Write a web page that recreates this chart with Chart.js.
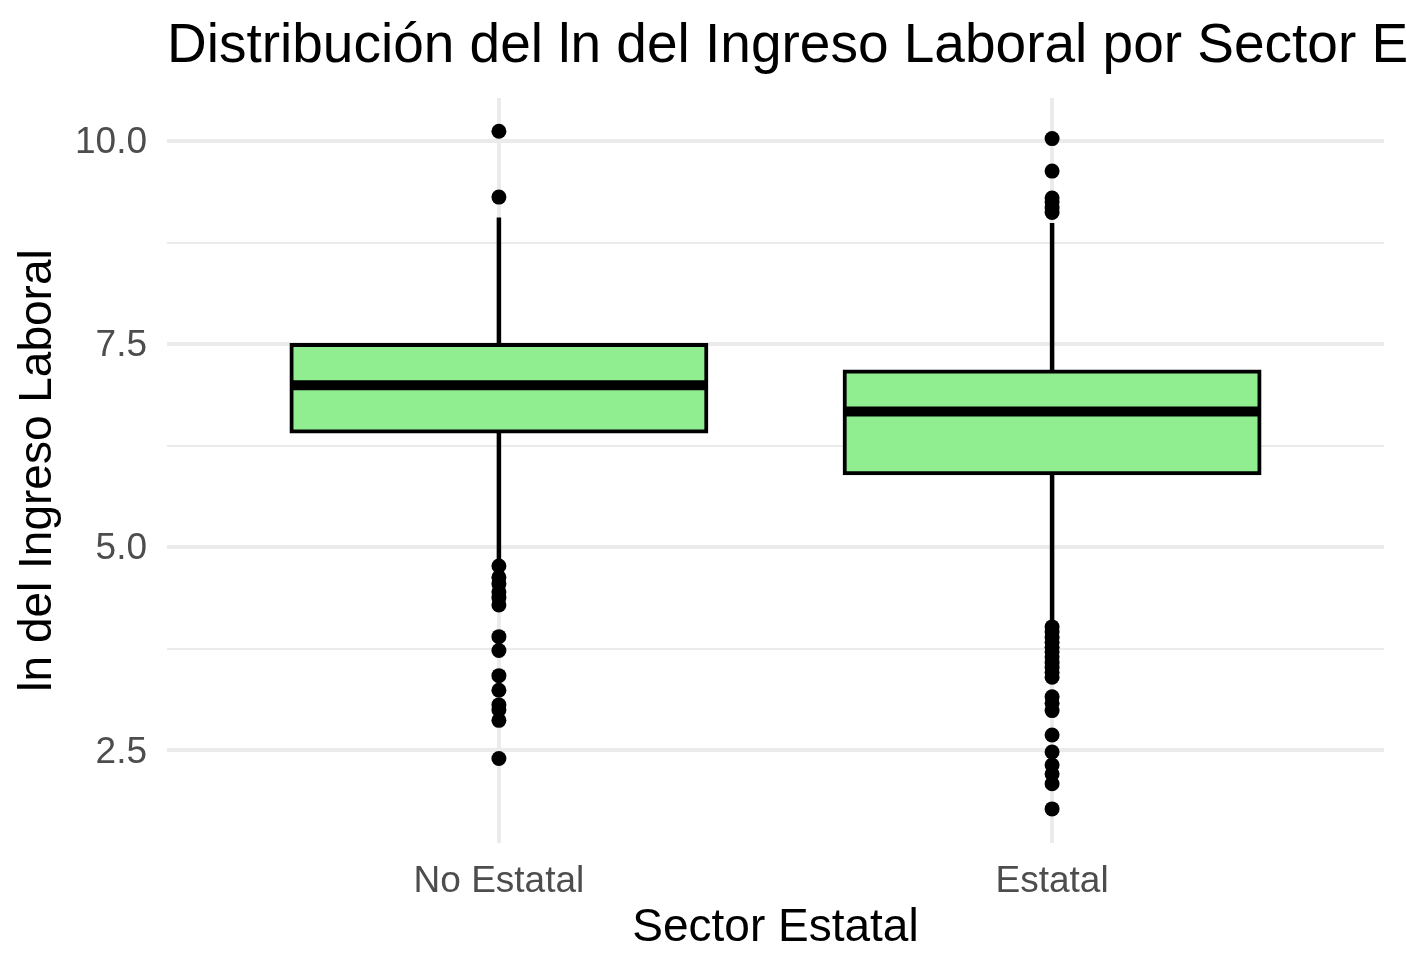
<!DOCTYPE html>
<html>
<head>
<meta charset="utf-8">
<script src="https://cdn.jsdelivr.net/npm/chart.js@4/dist/chart.umd.min.js"></script>
<style>
  html, body { margin: 0; padding: 0; background: #ffffff; }
  #wrap { width: 1407px; height: 972px; position: relative; }
  canvas { display: block; }
</style>
</head>
<body>
<div id="wrap"><canvas id="c" width="1407" height="972"></canvas></div>
<script>
// ---- Data ----
const categories = ['No Estatal', 'Estatal'];
const categoryPositions = [1, 2];
const q1Values = [6.425, 5.911];
const medianValues = [6.995, 6.672];
const q3Values = [7.49, 7.164];
const whiskerLow = [4.84, 4.08];
const whiskerHigh = [9.06, 8.99];
const outliersNoEstatal = [10.12, 9.31, 4.77, 4.63, 4.55, 4.45, 4.38, 4.29, 3.90, 3.73, 3.42, 3.24, 3.06, 3.00, 2.87, 2.40];
const outliersEstatal = [10.03, 9.63, 9.30, 9.25, 9.18, 9.12, 4.02, 3.96, 3.89, 3.83, 3.77, 3.71, 3.65, 3.58, 3.52, 3.46, 3.40, 3.16, 3.08, 2.99, 2.69, 2.48, 2.32, 2.21, 2.09, 1.78];
const yTickValues = [2.5, 5, 7.5, 10];
const yTickLabels = ['2.5', '5.0', '7.5', '10.0'];
const yMinorTicks = [3.75, 6.25, 8.75];
const titleText = 'Distribución del ln del Ingreso Laboral por Sector Estatal';
const xAxisTitle = 'Sector Estatal';
const yAxisTitle = 'ln del Ingreso Laboral';

// ---- Styles ----
const boxWidth = 0.75;
const FONT = '"Liberation Sans", Arial, Helvetica, sans-serif';
const GRID = '#EBEBEB';

const outlierSets = [outliersNoEstatal, outliersEstatal];
const outlierPoints = outlierSets.flatMap((arr, i) => arr.map(v => ({x: categoryPositions[i], y: v})));
const medianPoints = categoryPositions.flatMap((p, i) => [
  {x: p - boxWidth / 2, y: medianValues[i]},
  {x: p + boxWidth / 2, y: medianValues[i]},
  {x: p + 0.5, y: null}
]);
const whiskerPoints = categoryPositions.flatMap((p, i) => [
  {x: p, y: whiskerLow[i]},
  {x: p, y: whiskerHigh[i]},
  {x: p + 0.5, y: null}
]);
const boxPoints = categoryPositions.map((p, i) => ({x: p, y: [q1Values[i], q3Values[i]]}));

const titlePlugin = {
  id: 'ggTitle',
  afterDraw(chart) {
    const ctx = chart.ctx;
    ctx.save();
    ctx.font = '55px ' + FONT;
    ctx.fillStyle = '#000000';
    ctx.textAlign = 'left';
    ctx.textBaseline = 'alphabetic';
    ctx.fillText(titleText, chart.chartArea.left, 62);
    ctx.restore();
  }
};

new Chart(document.getElementById('c'), {
  type: 'bar',
  data: {
    datasets: [
      {
        type: 'scatter',
        data: outlierPoints,
        pointRadius: 7.5,
        pointBackgroundColor: '#000000',
        pointBorderWidth: 0,
        pointBorderColor: '#000000'
      },
      {
        type: 'line',
        data: medianPoints,
        borderColor: '#000000',
        borderWidth: 10,
        borderCapStyle: 'butt',
        pointRadius: 0,
        spanGaps: false,
        fill: false
      },
      {
        type: 'bar',
        data: boxPoints,
        backgroundColor: '#90EE90',
        borderColor: '#000000',
        borderWidth: 4,
        borderSkipped: false,
        inflateAmount: 2,
        categoryPercentage: boxWidth,
        barPercentage: 1.0
      },
      {
        type: 'line',
        data: whiskerPoints,
        borderColor: '#000000',
        borderWidth: 4.5,
        borderCapStyle: 'butt',
        pointRadius: 0,
        spanGaps: false,
        fill: false
      }
    ]
  },
  options: {
    responsive: false,
    animation: false,
    events: [],
    layout: { padding: { top: 98, right: 23, left: 0, bottom: 0 } },
    plugins: {
      legend: { display: false },
      tooltip: { enabled: false },
      title: { display: false }
    },
    scales: {
      x: {
        type: 'linear',
        min: 0.4,
        max: 2.6,
        offset: false,
        afterBuildTicks: (scale) => { scale.ticks = categoryPositions.map(v => ({value: v})); },
        afterFit: (scale) => { scale.height = 129; },
        ticks: {
          autoSkip: false,
          maxRotation: 0,
          padding: 17,
          color: '#4D4D4D',
          font: { family: FONT, size: 37 },
          callback: (v) => categories[categoryPositions.indexOf(v)]
        },
        grid: { color: GRID, lineWidth: 4, drawTicks: false, offset: false },
        border: { display: false },
        title: {
          display: true,
          text: xAxisTitle,
          color: '#000000',
          font: { family: FONT, size: 46 },
          padding: { top: 0, bottom: 16 }
        }
      },
      y: {
        type: 'linear',
        min: 1.36,
        max: 10.53,
        afterBuildTicks: (scale) => {
          scale.ticks = yTickValues.concat(yMinorTicks).sort((a, b) => a - b).map(v => ({value: v}));
        },
        afterFit: (scale) => { scale.width = 167; },
        ticks: {
          autoSkip: false,
          padding: 20,
          labelOffset: 2,
          color: '#4D4D4D',
          font: { family: FONT, size: 37 },
          callback: (v) => {
            const i = yTickValues.indexOf(v);
            return i >= 0 ? yTickLabels[i] : '';
          }
        },
        grid: {
          color: GRID,
          lineWidth: (ctx) => (ctx.tick && yMinorTicks.includes(ctx.tick.value)) ? 2 : 4,
          drawTicks: false
        },
        border: { display: false },
        title: {
          display: true,
          text: yAxisTitle,
          color: '#000000',
          font: { family: FONT, size: 46 },
          padding: { top: 11, bottom: 0 }
        }
      }
    }
  },
  plugins: [titlePlugin]
});
</script>
</body>
</html>
